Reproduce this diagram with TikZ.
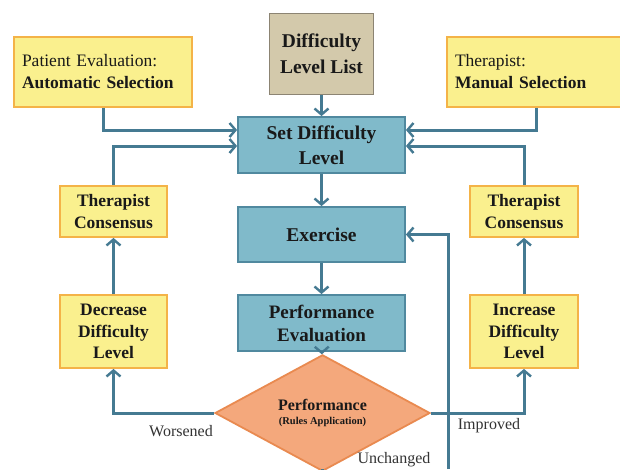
\documentclass[tikz,border=0pt]{standalone}
\usepackage{fontspec}
\setmainfont{Liberation Serif}
\usetikzlibrary{shapes.geometric,arrows.meta}

\definecolor{flowline}{HTML}{457A92}
\definecolor{yelfill}{HTML}{FAF08E}
\definecolor{yeldraw}{HTML}{F4B348}
\definecolor{bluefill}{HTML}{80BACA}
\definecolor{bluedraw}{HTML}{50899F}
\definecolor{tanfill}{HTML}{D3C9AB}
\definecolor{tandraw}{HTML}{8C8473}
\definecolor{orfill}{HTML}{F4A87C}
\definecolor{ordraw}{HTML}{E98A50}
\definecolor{lbltext}{HTML}{333333}

\begin{document}
\begin{tikzpicture}[x=1pt,y=-1pt,
    box/.style={draw,line width=1.8pt,align=center,inner sep=2pt,text=black!90},
    yelbox/.style={box,fill=yelfill,draw=yeldraw,font=\fontsize{17.5}{21.5}\selectfont\bfseries},
    bluebox/.style={box,fill=bluefill,draw=bluedraw,minimum width=167pt,minimum height=56pt,
        font=\fontsize{19.5}{25}\selectfont\bfseries},
    flow/.style={draw=flowline,line width=3pt},
    arrow/.style={flow,-{Straight Barb[length=6pt,width=14pt,line width=2.4pt]}},
    lbl/.style={text=lbltext,font=\fontsize{16}{18}\selectfont}]
    \useasboundingbox[fill=white] (0,0) rectangle (620,469);

    % Kopfzeile
    \node[box,fill=tanfill,draw=tandraw,minimum width=104pt,minimum height=81pt,
        font=\fontsize{19.5}{26}\selectfont\bfseries] (list) at (321.5,54) {Difficulty\\Level List};
    \node[yelbox,minimum width=178pt,minimum height=70pt,text width=162pt,align=left,
        font=\fontsize{17.5}{22}\selectfont] (pateval) at (103,72)
        {Patient Evaluation:\\\textbf{Automatic Selection}};
    \node[yelbox,minimum width=178pt,minimum height=70pt,text width=162pt,align=left,
        font=\fontsize{17.5}{22}\selectfont] (therapist) at (536,72)
        {Therapist:\\\textbf{Manual Selection}};

    % Mittelspalte
    \node[bluebox] (set) at (321.5,145) {Set Difficulty\\Level};
    \node[bluebox,minimum height=55pt] (exercise) at (321.5,234.5) {Exercise};
    \node[bluebox,font=\fontsize{19}{23}\selectfont\bfseries] (perfeval) at (321.5,323) {Performance\\Evaluation};
    \node[diamond,draw=ordraw,fill=orfill,line width=1.8pt,inner sep=0pt,
        minimum width=215pt,minimum height=81pt,align=center,text=black!90] (decision) at (322.5,413)
        {{\fontsize{16}{18}\selectfont\bfseries Performance}\\[2pt]
         {\fontsize{10.5}{12}\selectfont\bfseries (Rules Application)}};

    % Seiten
    \node[yelbox,minimum width=107pt,minimum height=51pt] (consL) at (113.5,211.5) {Therapist\\Consensus};
    \node[yelbox,minimum width=107pt,minimum height=73pt] (decr) at (113.5,331.5) {Decrease\\Difficulty\\Level};
    \node[yelbox,minimum width=108pt,minimum height=51pt] (consR) at (524,211.5) {Therapist\\Consensus};
    \node[yelbox,minimum width=108pt,minimum height=73pt] (incr) at (524,331.5) {Increase\\Difficulty\\Level};

    % Beschriftungen
    \node[lbl] (worse) at (181,431) {Worsened};
    \node[lbl] (better) at (489,426) {Improved};
    \node[lbl] (same) at (394,460) {Unchanged};

    \coordinate (bottomL) at (322.5,469);
    \coordinate (bottomR) at (448,469);

    % Pfeile
    \draw[arrow] (list) -- (set);
    \draw[arrow] (set) -- (exercise);
    \draw[arrow] (exercise) -- (perfeval);
    \draw[arrow] (perfeval) -- (decision);
    \draw[arrow] (pateval.south) |- ([yshift=15pt]set.west);
    \draw[arrow] (consL.north) |- ([yshift=-1pt]set.west);
    \draw[arrow] (therapist.south) |- ([yshift=15pt]set.east);
    \draw[arrow] (consR.north) |- ([yshift=-1pt]set.east);
    \draw[arrow] (decision.west) -| (decr.south);
    \draw[arrow] (decr) -- (consL);
    \draw[arrow] (decision.east) -| (incr.south);
    \draw[arrow] (incr) -- (consR);
    \draw[flow] (decision.south) -- (bottomL);
    \draw[arrow] (bottomR) |- (exercise.east);
\end{tikzpicture}
\end{document}
